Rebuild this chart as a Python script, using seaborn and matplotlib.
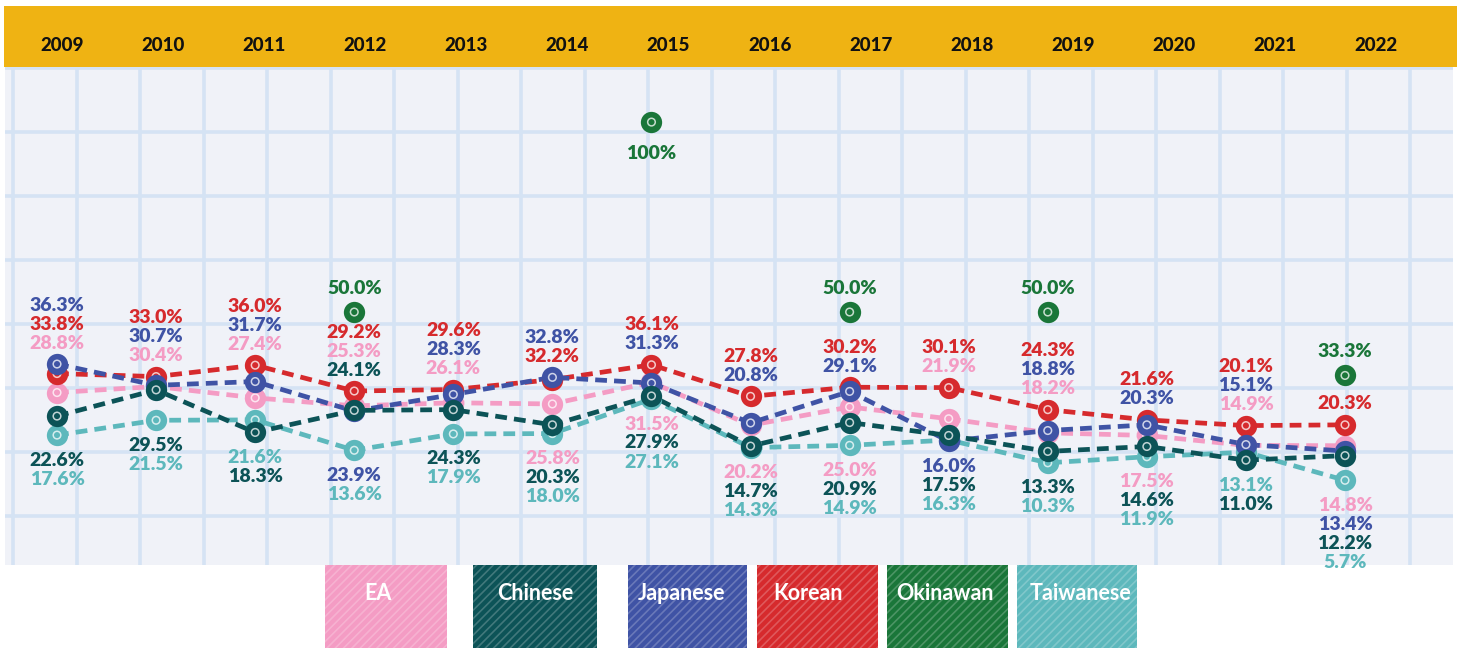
import numpy as np
import pandas as pd
import matplotlib
matplotlib.use("Agg")
import matplotlib.pyplot as plt
import seaborn as sns
from matplotlib.patches import Rectangle

# ---------------- data ----------------
years = [2009, 2010, 2011, 2012, 2013, 2014, 2015, 2016, 2017, 2018, 2019, 2020, 2021, 2022]
series_names = ["EA", "Chinese", "Japanese", "Korean", "Okinawan", "Taiwanese"]
nan = np.nan
ea = [28.8, 30.4, 27.4, 25.3, 26.1, 25.8, 31.5, 20.2, 25.0, 21.9, 18.2, 17.5, 14.9, 14.8]
chinese = [22.6, 29.5, 18.3, 24.1, 24.3, 20.3, 27.9, 14.7, 20.9, 17.5, 13.3, 14.6, 11.0, 12.2]
japanese = [36.3, 30.7, 31.7, 23.9, 28.3, 32.8, 31.3, 20.8, 29.1, 16.0, 18.8, 20.3, 15.1, 13.4]
korean = [33.8, 33.0, 36.0, 29.2, 29.6, 32.2, 36.1, 27.8, 30.2, 30.1, 24.3, 21.6, 20.1, 20.3]
okinawan = [nan, nan, nan, 50.0, nan, nan, 100.0, nan, 50.0, nan, 50.0, nan, nan, 33.3]
taiwanese = [17.6, 21.5, 21.6, 13.6, 17.9, 18.0, 27.1, 14.3, 14.9, 16.3, 10.3, 11.9, 13.1, 5.7]

colors = {
    "EA": "#F49CC4",
    "Chinese": "#0C5357",
    "Japanese": "#3F53A5",
    "Korean": "#D62A2D",
    "Okinawan": "#1A7639",
    "Taiwanese": "#5DB8BC",
}

# label grouping per year (top-to-bottom order above / below the cluster)
labels_above = [
    ["Japanese", "Korean", "EA"], ["Korean", "Japanese", "EA"], ["Korean", "Japanese", "EA"],
    ["Korean", "EA", "Chinese"], ["Korean", "Japanese", "EA"], ["Japanese", "Korean"],
    ["Korean", "Japanese"], ["Korean", "Japanese"], ["Korean", "Japanese"], ["Korean", "EA"],
    ["Korean", "Japanese", "EA"], ["Korean", "Japanese"], ["Korean", "Japanese", "EA"], ["Korean"],
]
labels_below = [
    ["Chinese", "Taiwanese"], ["Chinese", "Taiwanese"], ["Taiwanese", "Chinese"],
    ["Japanese", "Taiwanese"], ["Chinese", "Taiwanese"], ["EA", "Chinese", "Taiwanese"],
    ["EA", "Chinese", "Taiwanese"], ["EA", "Chinese", "Taiwanese"], ["EA", "Chinese", "Taiwanese"],
    ["Japanese", "Chinese", "Taiwanese"], ["Chinese", "Taiwanese"], ["EA", "Chinese", "Taiwanese"],
    ["Taiwanese", "Chinese"], ["EA", "Japanese", "Chinese", "Taiwanese"],
]

df = pd.DataFrame({"year": years, "EA": ea, "Chinese": chinese, "Japanese": japanese,
                   "Korean": korean, "Okinawan": okinawan, "Taiwanese": taiwanese})
df["idx"] = np.arange(len(years))
long = df.melt(id_vars=["year", "idx"], value_vars=series_names, var_name="series", value_name="value")

# ---------------- figure ----------------
W, H = 1463, 658
fig = plt.figure(figsize=(W / 100, H / 100), dpi=100)
fig.patch.set_facecolor("white")
FONT = "Lato"

def rect(l, t, r, b):
    return [l / W, 1 - b / H, (r - l) / W, (b - t) / H]

# paper background with grid
paper = rect(5, 67, 1453, 565)
ax_bg = fig.add_axes(paper)
ax_bg.set_facecolor("#F0F2F8")
ax_bg.set_xlim(0, 1448)
ax_bg.set_ylim(498, 0)
ax_bg.set_xticks(np.arange(8, 1448, 63.5))
ax_bg.set_yticks(np.arange(1, 498, 64))
ax_bg.grid(True, color="#D5E3F4", linewidth=2.6)
ax_bg.tick_params(length=0, labelbottom=False, labelleft=False)
for s in ax_bg.spines.values():
    s.set_visible(False)

# header band
ax_h = fig.add_axes(rect(4, 6, 1457, 67))
ax_h.set_facecolor("#EFB313")
ax_h.set_xlim(-0.574, 13.80)
ax_h.set_ylim(0, 1)
ax_h.set_xticks([]); ax_h.set_yticks([])
for s in ax_h.spines.values():
    s.set_visible(False)
for i, y in enumerate(years):
    ax_h.text(i, 0.36, str(y), ha="center", va="center", fontsize=13.5,
              fontweight="black", family=FONT, color="#111111")

# data axes
ax = fig.add_axes(paper)
ax.set_facecolor("none")
ax.set_xlim(-0.525, 14.09)
ax.set_ylim(-16.6, 114.5)
ax.axis("off")

line_order = ["EA", "Taiwanese", "Korean", "Japanese", "Chinese"]
for name in line_order:
    d = long[long.series == name]
    sns.lineplot(data=d, x="idx", y="value", ax=ax, color=colors[name], linewidth=3.4,
                 linestyle=(0, (2.5, 1.5)), zorder=2, legend=False)
for k, name in enumerate(line_order + ["Okinawan"]):
    d = long[(long.series == name) & long.value.notna()]
    sns.scatterplot(data=d, x="idx", y="value", ax=ax, color=colors[name], s=235,
                    edgecolor=colors[name], linewidth=0, zorder=3 + k, legend=False)
    sns.scatterplot(data=d, x="idx", y="value", ax=ax, facecolor="none", s=30,
                    edgecolor=(1, 1, 1, 0.75), linewidth=1.1, zorder=3 + k, legend=False)

# value labels
vals = {n: df[n].to_numpy() for n in series_names}
main = ["EA", "Chinese", "Japanese", "Korean", "Taiwanese"]
LBL = dict(textcoords="offset pixels", ha="center", va="center", fontsize=14,
           fontweight="heavy", family=FONT, zorder=20)
for i in range(len(years)):
    col = [vals[n][i] for n in main]
    top, bot = max(col), min(col)
    for k, name in enumerate(reversed(labels_above[i])):
        ax.annotate(f"{vals[name][i]:.1f}%", xy=(i, top), xytext=(0, 21 + 19 * k),
                    color=colors[name], **LBL)
    for k, name in enumerate(labels_below[i]):
        ax.annotate(f"{vals[name][i]:.1f}%", xy=(i, bot), xytext=(0, -(25 + 19 * k)),
                    color=colors[name], **LBL)
    ov = vals["Okinawan"][i]
    if not np.isnan(ov):
        txt = f"{ov:.0f}%" if ov >= 100 else f"{ov:.1f}%"
        off = -31 if ov >= 100 else 24
        ax.annotate(txt, xy=(i, ov), xytext=(0, off), color=colors["Okinawan"], **LBL)

# legend (scribble-like swatches)
ax_leg = fig.add_axes([0, 0, 1, 1], zorder=-1)
ax_leg.set_xlim(0, W)
ax_leg.set_ylim(H, 0)
ax_leg.axis("off")
plt.rcParams["hatch.linewidth"] = 1.2
legend_left = [325, 473, 628, 757, 887, 1017]
legend_right = [447, 597, 747, 878, 1008, 1137]
legend_text_x = [378, 535, 682, 808, 945, 1081]
for left, right, tx, name in zip(legend_left, legend_right, legend_text_x, series_names):
    ax_leg.add_patch(Rectangle((left, 553), right - left, 95, facecolor=colors[name],
                               edgecolor="none", linewidth=0))
    ax_leg.add_patch(Rectangle((left, 553), right - left, 95, facecolor="none",
                               edgecolor=(1, 1, 1, 0.22), linewidth=0, hatch="////"))
    ax_leg.text(tx, 594, name, ha="center", va="center", fontsize=15.5,
                fontweight="bold", family=FONT, color="white")

fig.savefig("out.png", dpi=100, facecolor="white")
